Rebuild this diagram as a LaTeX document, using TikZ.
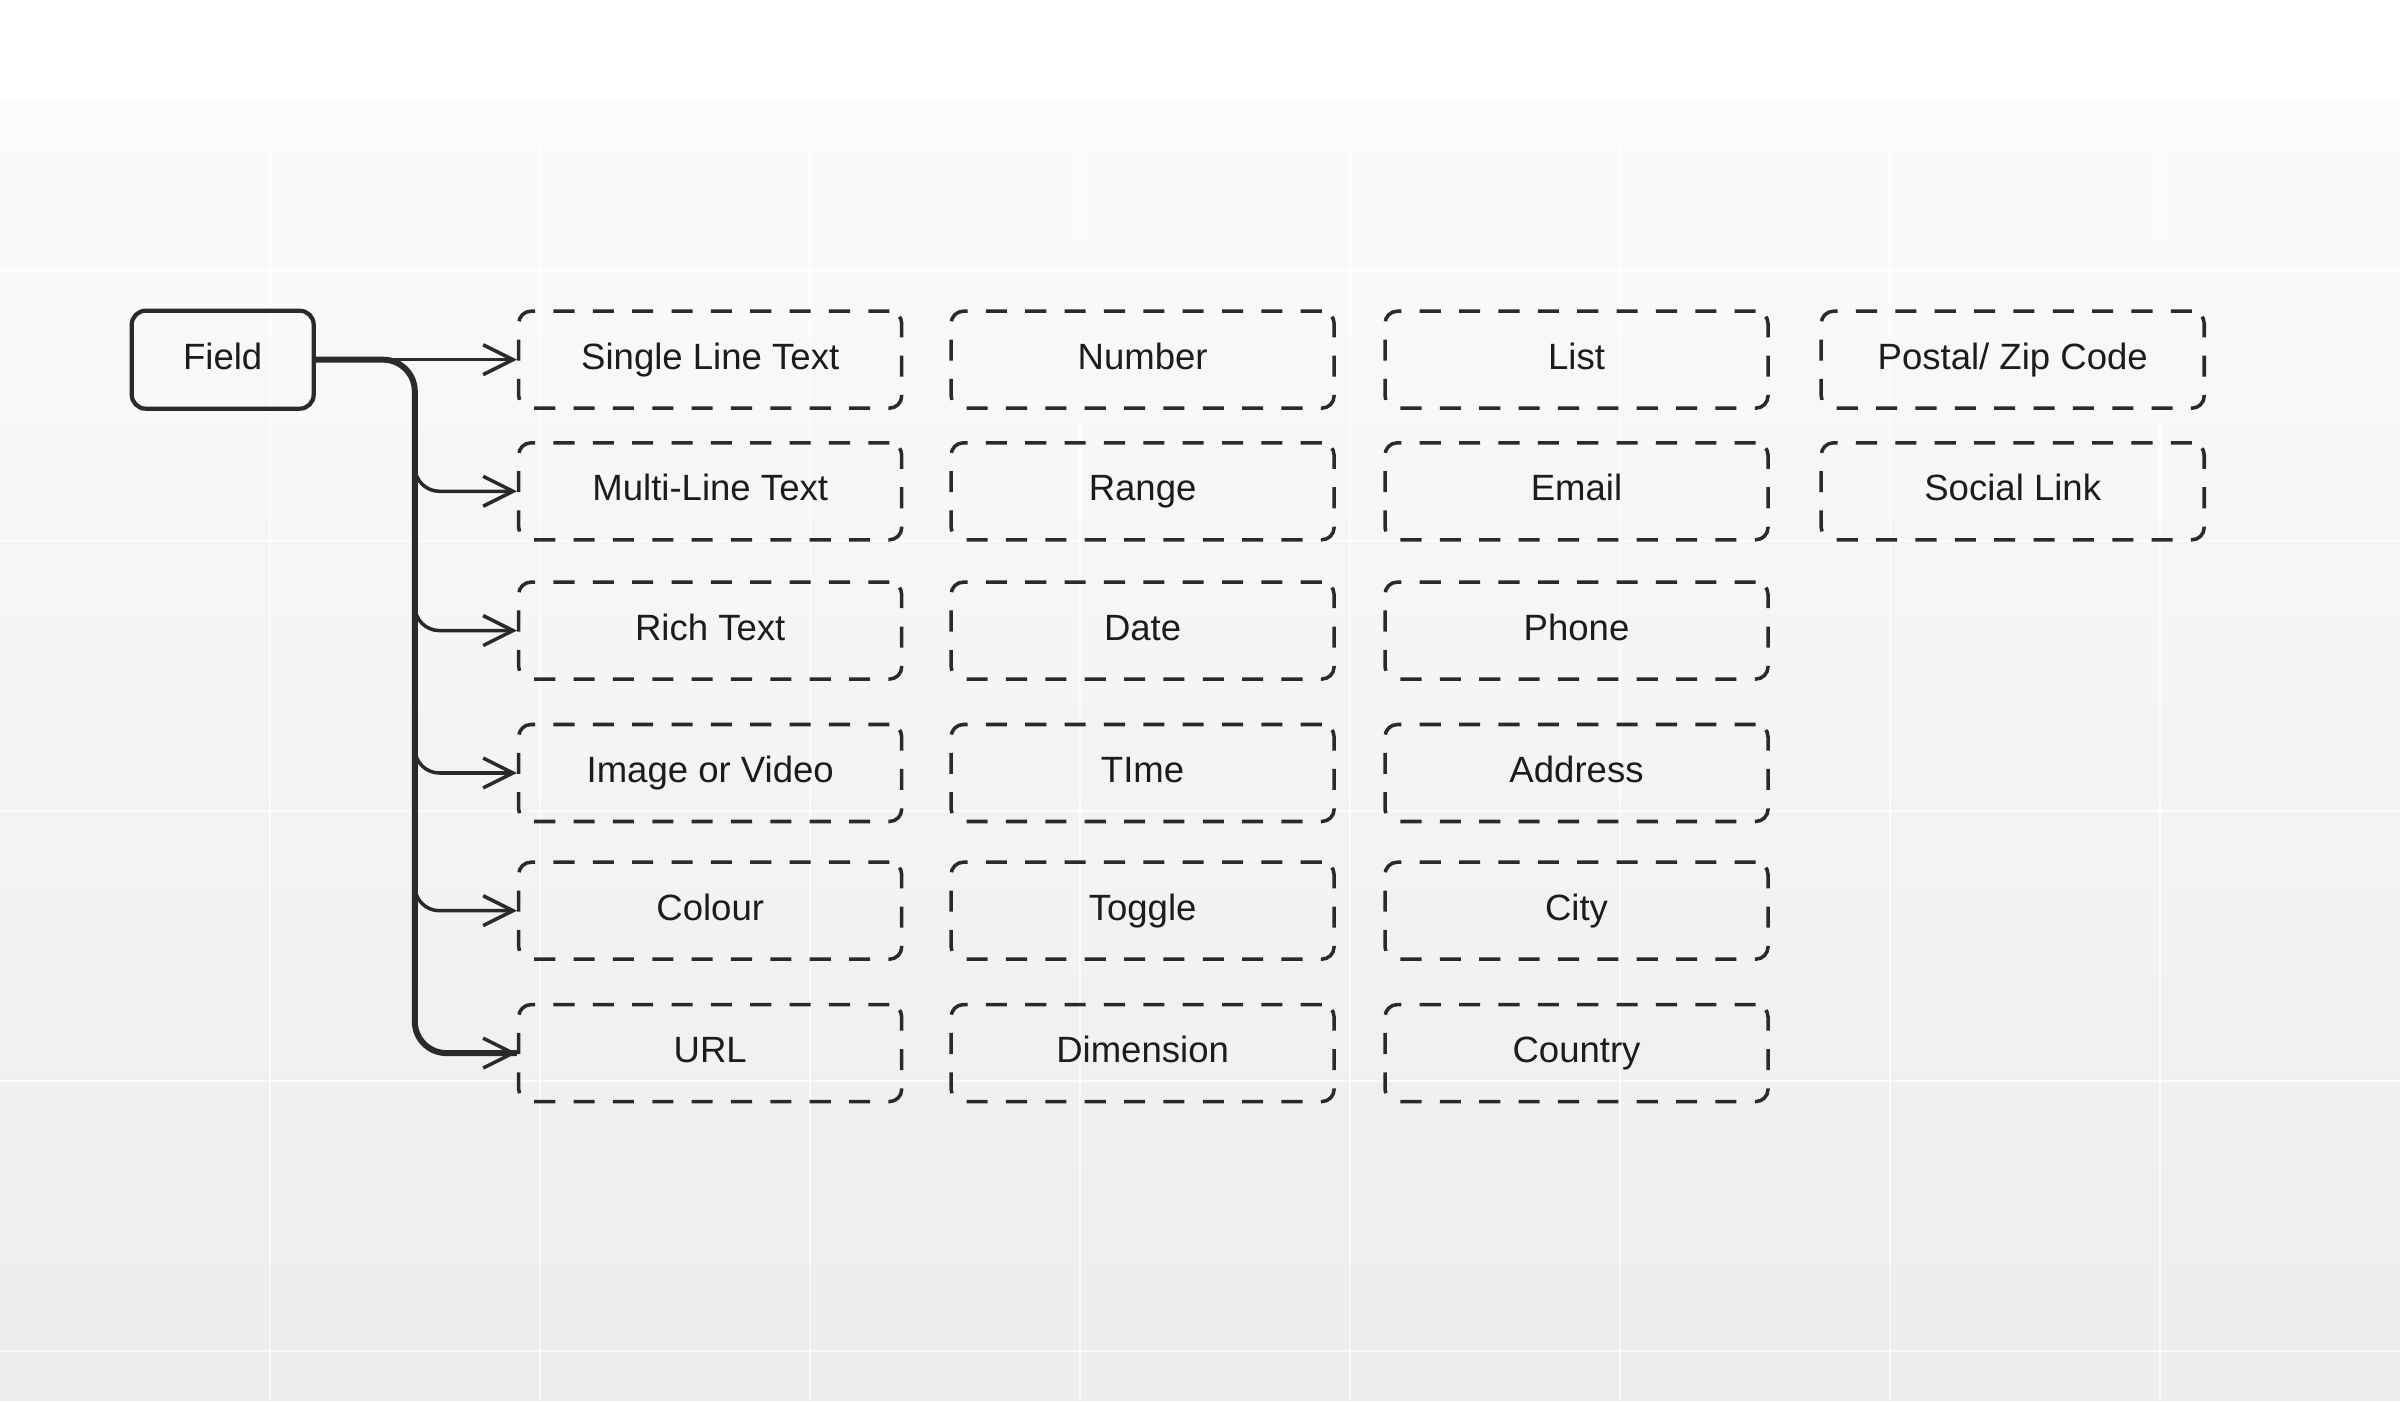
\documentclass[tikz,border=0pt]{standalone}
\usepackage{fontspec}
\setmainfont{Liberation Sans}
\usetikzlibrary{arrows.meta}
\definecolor{ink}{HTML}{2A2A2A}
\definecolor{txt}{HTML}{1C1C1C}
\definecolor{bgtop}{HTML}{FBFBFB}
\definecolor{bgbot}{HTML}{EDEDED}
\tikzset{
  fieldbox/.style={draw=ink, line width=1.2pt, rounded corners=4pt, minimum width=1.82cm, minimum height=0.98cm, inner sep=0pt, text=txt, font=\fontsize{10.4}{12}\selectfont, text height=7.6pt, text depth=2.2pt},
  typebox/.style={draw=ink, line width=1pt, dash pattern=on 6pt off 5.2pt, rounded corners=3.5pt, minimum width=3.83cm, minimum height=0.97cm, inner sep=0pt, text=txt, font=\fontsize{10.4}{12}\selectfont, text height=7.6pt, text depth=2.2pt},
  conn/.style={draw=ink, line width=1pt, -{Straight Barb[length=8.5pt,width=8.5pt,line width=1pt]}},
  trunkline/.style={draw=ink, line width=1.7pt},
  gridline/.style={draw=white, line width=0.7pt, opacity=0.7}
}
\begin{document}
\begin{tikzpicture}
\useasboundingbox (0,0) rectangle (24,14);
\fill[white] (0,0) rectangle (24,14);
\shade[top color=bgtop, bottom color=bgbot] (0,0) rectangle (24,12.97);
\foreach \gx in {2.7,5.4,8.1,10.8,13.5,16.2,18.9,21.6} \draw[gridline] (\gx,0) -- (\gx,12.97);
\foreach \gy in {0.49,3.19,5.89,8.59,11.29} \draw[gridline] (0,\gy) -- (24,\gy);

\node[fieldbox] (field) at (2.227,10.403) {Field};

% column 1
\node[typebox] (single) at (7.102,10.403) {Single Line Text};
\node[typebox] (multi)  at (7.102,9.087)  {Multi-Line Text};
\node[typebox] (rich)   at (7.102,7.694)  {Rich Text};
\node[typebox] (image)  at (7.102,6.270)  {Image or Video};
\node[typebox] (colour) at (7.102,4.893)  {Colour};
\node[typebox] (url)    at (7.102,3.469)  {URL};
% column 2
\node[typebox] (number) at (11.426,10.403) {Number};
\node[typebox] (range)  at (11.426,9.087)  {Range};
\node[typebox] (date)   at (11.426,7.694)  {Date};
\node[typebox] (time)   at (11.426,6.270)  {TIme};
\node[typebox] (toggle) at (11.426,4.893)  {Toggle};
\node[typebox] (dim)    at (11.426,3.469)  {Dimension};
% column 3
\node[typebox] (list)    at (15.765,10.403) {List};
\node[typebox] (email)   at (15.765,9.087)  {Email};
\node[typebox] (phone)   at (15.765,7.694)  {Phone};
\node[typebox] (address) at (15.765,6.270)  {Address};
\node[typebox] (city)    at (15.765,4.893)  {City};
\node[typebox] (country) at (15.765,3.469)  {Country};
% column 4
\node[typebox] (postal) at (20.127,10.403) {Postal/ Zip Code};
\node[typebox] (social) at (20.127,9.087)  {Social Link};

% connectors
\coordinate (trtop) at (4.148,9.95);
\coordinate (trbot) at (4.148,3.469);
\draw[trunkline, rounded corners=9pt] (field.east) -| (trbot) -- (url.west);
\draw[conn] (field.east) -- (single.west);
\draw[conn, rounded corners=7pt] (trtop) |- (multi.west);
\draw[conn, rounded corners=7pt] (trtop) |- (rich.west);
\draw[conn, rounded corners=7pt] (trtop) |- (image.west);
\draw[conn, rounded corners=7pt] (trtop) |- (colour.west);
\draw[conn, rounded corners=9pt] (trtop) |- (url.west);
\end{tikzpicture}
\end{document}
